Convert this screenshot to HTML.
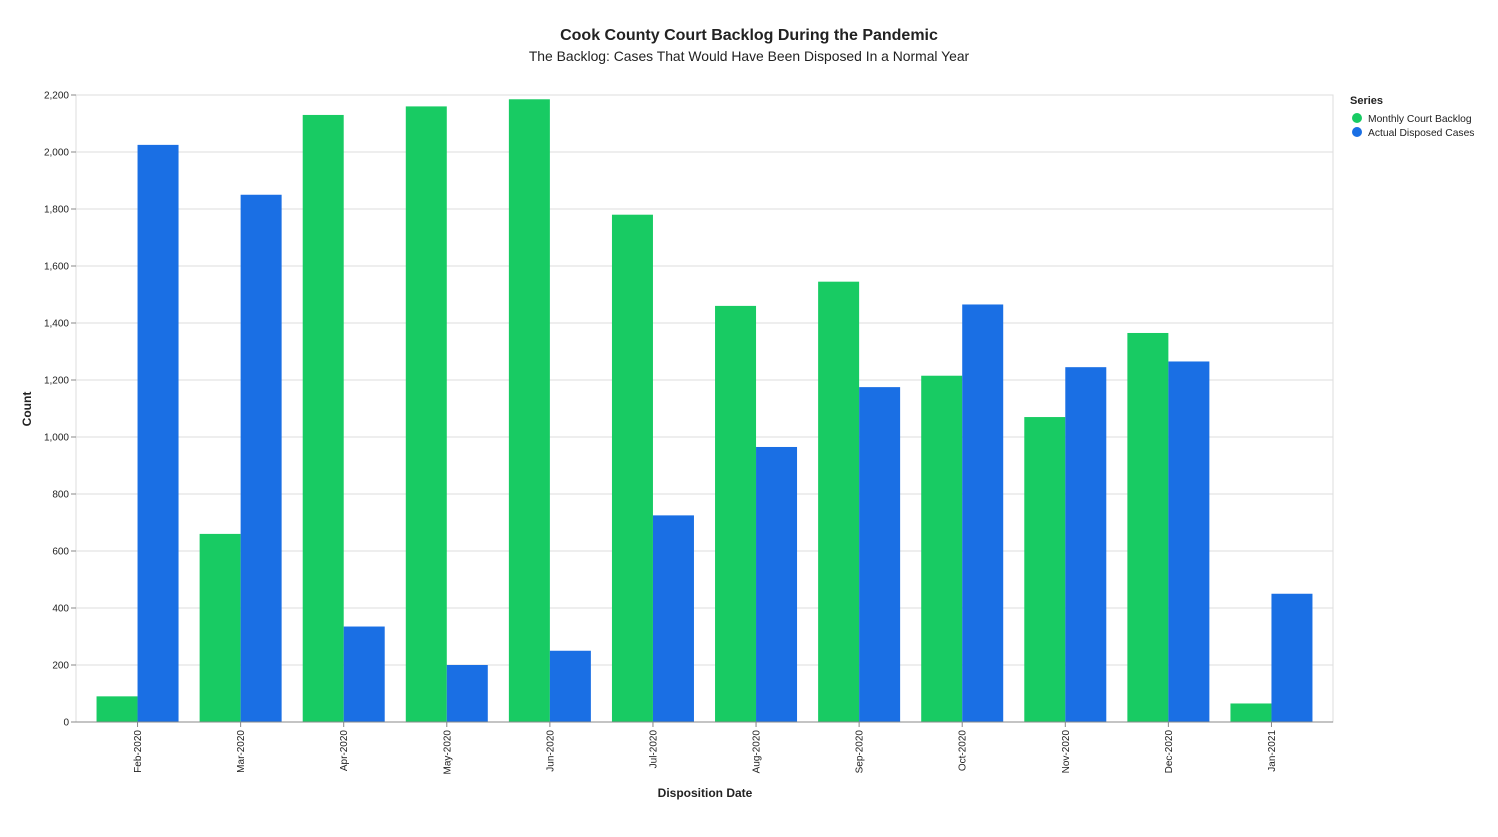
<!DOCTYPE html>
<html><head><meta charset="utf-8">
<style>
body{margin:0;background:#fff;font-family:"Liberation Sans",Arial,sans-serif;}
svg text{font-family:"Liberation Sans",Arial,sans-serif;}
</style></head>
<body>
<svg id="chart" width="1498" height="832" xmlns="http://www.w3.org/2000/svg">
<text x="749" y="40" text-anchor="middle" font-size="16" font-weight="bold" fill="#222">Cook County Court Backlog During the Pandemic</text>
<text x="749" y="61" text-anchor="middle" font-size="13.9" fill="#222">The Backlog: Cases That Would Have Been Disposed In a Normal Year</text>
<g id="grid"></g><g id="bars"></g><g id="axes"></g>
<text transform="translate(31,409) rotate(-90)" text-anchor="middle" font-size="12" font-weight="bold" fill="#222">Count</text>
<text x="705" y="797" text-anchor="middle" font-size="12" font-weight="bold" fill="#222">Disposition Date</text>
<g>
<text x="1350" y="104" font-size="11" font-weight="bold" fill="#222">Series</text>
<circle cx="1357" cy="118" r="5" fill="#18cb63"/>
<text x="1368" y="122" font-size="10.3" fill="#222">Monthly Court Backlog</text>
<circle cx="1357" cy="132" r="5" fill="#1a6fe4"/>
<text x="1368" y="136" font-size="10.3" fill="#222">Actual Disposed Cases</text>
</g>
</svg>
<script>
const categories=["Feb-2020","Mar-2020","Apr-2020","May-2020","Jun-2020","Jul-2020","Aug-2020","Sep-2020","Oct-2020","Nov-2020","Dec-2020","Jan-2021"];
const backlog=[90,660,2130,2160,2185,1780,1460,1545,1215,1070,1365,65];
const disposed=[2025,1850,335,200,250,725,965,1175,1465,1245,1265,450];
const yTicks=[0,200,400,600,800,1000,1200,1400,1600,1800,2000,2200];
const yTickLabels=["0","200","400","600","800","1,000","1,200","1,400","1,600","1,800","2,000","2,200"];
const NS="http://www.w3.org/2000/svg";
const L=76,R=1333,T=95,B=722,yMax=2200;
const y=v=>B-(v/yMax)*(B-T);
const band=(R-L-20)/categories.length;
const xc=i=>L+10+band*(i+0.5);
const bw=41;
function mk(tag,attrs,parent){const e=document.createElementNS(NS,tag);for(const k in attrs)e.setAttribute(k,attrs[k]);document.getElementById(parent).appendChild(e);return e;}
const box=mk("rect",{x:L,y:T,width:R-L,height:B-T,fill:"none",stroke:"#ddd"},"grid");


yTicks.forEach((t,i)=>{
  const g=mk("line",{x1:L,x2:R,y1:y(t),y2:y(t),stroke:"#ddd"},"grid");
  
  
  const tk=mk("line",{x1:L-5,x2:L,y1:y(t),y2:y(t),stroke:"#888"},"axes");
  
  
  const tx=mk("text",{x:L-7,y:y(t)+3.5,"text-anchor":"end","font-size":"10",fill:"#222"},"axes");
  tx.textContent=yTickLabels[i];
  
  
});
categories.forEach((c,i)=>{
  const cx=xc(i);
  const g=mk("rect",{x:cx-bw,y:y(backlog[i]),width:bw,height:B-y(backlog[i]),fill:"#18cb63"},"bars");
  
  
  const b=mk("rect",{x:cx,y:y(disposed[i]),width:bw,height:B-y(disposed[i]),fill:"#1a6fe4"},"bars");
  
  
  const tk=mk("line",{x1:cx,x2:cx,y1:B,y2:B+5,stroke:"#888"},"axes");
  
  
  const tx=mk("text",{transform:`translate(${cx+3.5},${B+8}) rotate(-90)`,"text-anchor":"end","font-size":"10",fill:"#222"},"axes");
  tx.textContent=c;
  
  
});
const ax=mk("line",{x1:L,x2:R,y1:B,y2:B,stroke:"#888"},"axes");


</script>
</body></html>
